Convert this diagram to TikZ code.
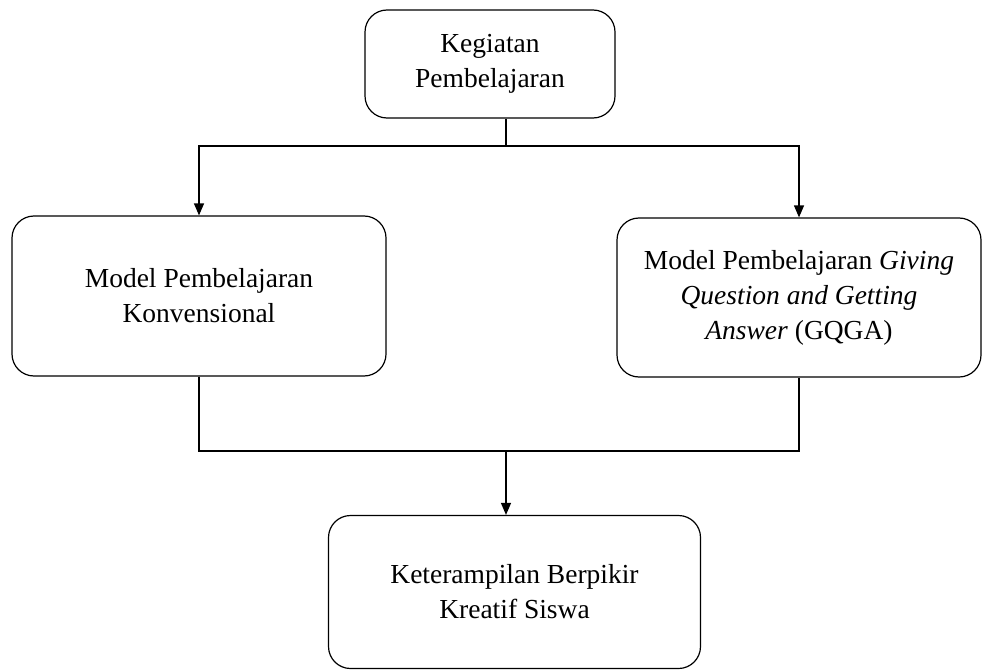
\documentclass[tikz,border=0pt]{standalone}
\usepackage{fontspec}
\setmainfont{Liberation Serif}
\usepackage{tikz}
\usetikzlibrary{arrows.meta}

\begin{document}
\begin{tikzpicture}[x=1pt, y=-1pt,
   kotak/.style={draw=black, line width=1.2pt, rounded corners=22pt, align=center,
                 inner sep=0pt, font=\fontsize{27.5}{35}\selectfont},
   garis/.style={black, line width=1.2pt},
   panah/.style={garis, -{Triangle[width=10pt,length=12pt]}}]
  \useasboundingbox (0,0) rectangle (984,671);
   \node[kotak, minimum width=250, minimum height=108] (keg) at (490,64) {Kegiatan\\Pembelajaran};
   \node[kotak, minimum width=374, minimum height=160] (konv) at (199,296) {Model Pembelajaran\\Konvensional};
   \node[kotak, minimum width=364, minimum height=159] (gqga) at (799,297.5)
        {Model Pembelajaran \textit{Giving}\\\textit{Question and Getting}\\\textit{Answer} (GQGA)};
   \node[kotak, minimum width=372, minimum height=153] (kreatif) at (514.5,592) {Keterampilan Berpikir\\Kreatif Siswa};
   \coordinate (cabang) at (506,146);
   \coordinate (gabung) at (506,451);
    \draw[garis] (keg.south -| cabang) -- (cabang);
    \draw[panah] (cabang) -| (konv.north);
    \draw[panah] (cabang) -| (gqga.north);
 % bagian bawah
    \draw[garis] (konv.south) |- (gabung) -| (gqga.south);
    \draw[panah] (gabung) -- (kreatif.north -| gabung);
\end{tikzpicture}
\end{document}
